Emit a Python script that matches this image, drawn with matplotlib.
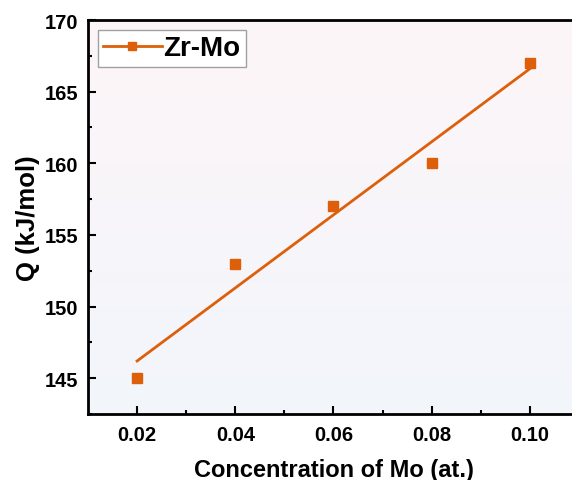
import numpy as np
import matplotlib
matplotlib.use("Agg")
import matplotlib.pyplot as plt
from matplotlib.colors import LinearSegmentedColormap

# data
concentration = [0.02, 0.04, 0.06, 0.08, 0.10]
q_values = [145.0, 153.0, 157.0, 160.0, 167.0]
x_ticks = [0.02, 0.04, 0.06, 0.08, 0.10]
y_ticks = [145, 150, 155, 160, 165, 170]

color = "#DD5F0A"

plt.rcParams["font.family"] = ["Liberation Sans", "DejaVu Sans"]
plt.rcParams["font.weight"] = "bold"

fig = plt.figure(figsize=(5.72, 4.81), dpi=100)
# right spine sits just past the image edge, as in the reference
ax = fig.add_axes([88 / 572, 1 - 415 / 481, (579 - 88) / 572, (415 - 21) / 481])

# soft gradient background (pinkish top -> bluish bottom)
cmap = LinearSegmentedColormap.from_list("bg", ["#F2F5FB", "#FDF6F8"])
gradient = np.linspace(0, 1, 256).reshape(-1, 1)
ax.imshow(gradient, aspect="auto", cmap=cmap, origin="lower",
          extent=[0, 1, 0, 1], transform=ax.transAxes, zorder=0)

ax.plot(concentration, q_values, linestyle="None", marker="s", markersize=7,
        color=color, zorder=3)

coef = np.polyfit(concentration, q_values, 1)
x_fit = np.array([concentration[0], concentration[-1]])
ax.plot(x_fit, np.polyval(coef, x_fit), color=color, linewidth=2, zorder=2)

# legend handle: line with square marker
ax.plot([], [], color=color, linewidth=2, marker="s", markersize=6, label="Zr-Mo")
leg = ax.legend(loc="upper left", handlelength=2.1,
                handletextpad=0.05, borderpad=0.2, borderaxespad=0.35,
                fancybox=False, framealpha=1, edgecolor="#A0A0A0",
                prop={"weight": "bold", "size": 20})
leg.get_frame().set_linewidth(1.0)

ax.set_xlim(0.01, 0.11)
ax.set_ylim(142.5, 170)
ax.set_xticks(x_ticks)
ax.set_xticklabels(["{:.2f}".format(v) for v in x_ticks])
ax.set_yticks(y_ticks)
ax.set_xticks(np.arange(0.03, 0.11, 0.02), minor=True)
ax.set_yticks(np.arange(142.5, 170, 5), minor=True)

ax.tick_params(axis="both", which="major", direction="in", length=6, width=1.5,
               labelsize=14.5, top=False, right=False)
ax.tick_params(axis="both", which="minor", direction="in", length=3, width=1.5,
               top=False, right=False)
ax.tick_params(axis="x", pad=8)
ax.tick_params(axis="y", pad=7)
for lab in ax.get_xticklabels() + ax.get_yticklabels():
    lab.set_fontweight("bold")

for spine in ax.spines.values():
    spine.set_linewidth(2)

ax.set_xlabel("Concentration of Mo (at.)", fontsize=17, fontweight="bold", labelpad=10)
ax.set_ylabel("Q (kJ/mol)", fontsize=18.5, fontweight="bold", labelpad=3)

fig.savefig("out.png", dpi=100)
